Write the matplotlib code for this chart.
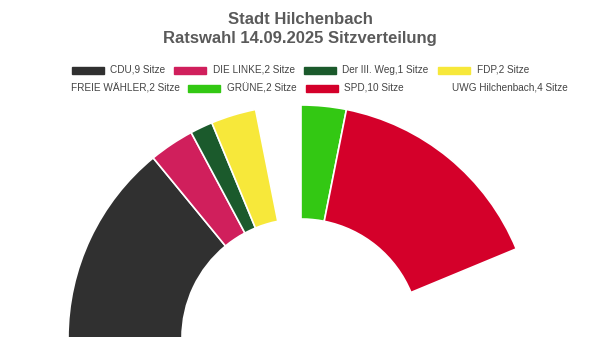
import matplotlib.pyplot as plt
from matplotlib.patches import Rectangle

plt.rcParams['font.family'] = ['Liberation Sans', 'DejaVu Sans']

# Sitzverteilung
parteien = ["CDU", "DIE LINKE", "Der III. Weg", "FDP", "FREIE WÄHLER", "GRÜNE", "SPD", "UWG Hilchenbach"]
sitze = [9, 2, 1, 2, 2, 2, 10, 4]
farben = ["#303030", "#d01f5c", "#1b5a2c", "#f7e83a", "none", "#33c813", "#d4002a", "none"]

titel = "Stadt Hilchenbach\nRatswahl 14.09.2025 Sitzverteilung"

# Legendenpositionen (Pixel): Symbol-x, Text-x, Zeile
leg_sym_x = [72, 174, 304, 438, None, 188, 306, None]
leg_txt_x = [110, 213, 342, 477, 71, 227, 344, 452]
leg_row_y = [70, 70, 70, 70, 88, 88, 88, 88]

fig = plt.figure(figsize=(6, 3.37), dpi=100)
ax = fig.add_axes([0, 0, 1, 1])

# Halbkreis: Mittelpunkt am unteren Rand, untere Hälfte leer
ax.pie(sitze + [sum(sitze)], colors=farben + ["none"], startangle=180, counterclock=False,
       radius=233, center=(301, -1),
       wedgeprops=dict(width=114, edgecolor="white", linewidth=1.2))
# unsichtbare Segmente ohne Rand
for i, w in enumerate(ax.patches):
    if i >= len(farben) or farben[i] == "none":
        w.set_edgecolor("none")

ax.set_xlim(0, 600)
ax.set_ylim(0, 337)
ax.set_aspect("auto")
ax.axis("off")

fig.text(0.5, 1 - 29 / 337, titel, ha="center", va="center", fontsize=12,
         fontweight="bold", color="#5a5a5a", linespacing=1.3)

for i, p in enumerate(parteien):
    y = 337 - leg_row_y[i]
    if leg_sym_x[i] is not None:
        ax.add_patch(Rectangle((leg_sym_x[i], y - 3.5), 32, 7, color=farben[i]))
    ax.text(leg_txt_x[i], y, f"{p},{sitze[i]} Sitze", fontsize=7.2, color="#444444",
            ha="left", va="center")

fig.savefig("out.png", dpi=100)
